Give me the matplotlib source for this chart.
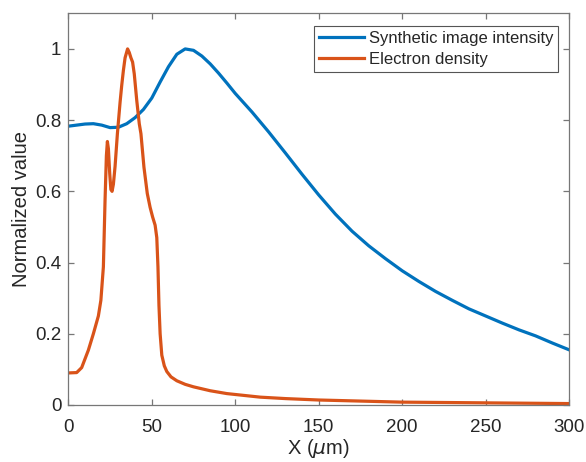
import matplotlib.pyplot as plt

# Synthetic image intensity (blue)
x_img = [0, 5, 10, 15, 20, 25, 30, 35, 40, 45, 50, 55, 60, 65, 70, 75, 80, 85, 90, 95,
         100, 110, 120, 130, 140, 150, 160, 170, 180, 190, 200, 210, 220, 230, 240,
         250, 260, 270, 280, 290, 300]
y_img = [0.783, 0.786, 0.789, 0.790, 0.786, 0.779, 0.780, 0.790, 0.807, 0.830, 0.862,
         0.907, 0.950, 0.985, 1.0, 0.996, 0.980, 0.958, 0.932, 0.904, 0.875, 0.823,
         0.767, 0.708, 0.648, 0.590, 0.536, 0.488, 0.447, 0.411, 0.377, 0.347, 0.319,
         0.294, 0.270, 0.250, 0.230, 0.211, 0.194, 0.174, 0.155]

# Electron density (orange)
x_ne = [0, 5, 8, 12, 15, 18, 19.5, 21, 22, 22.8, 23.4, 24, 24.8, 25.5, 26.2, 27, 28,
        29.4, 31, 32, 33, 34, 35.5, 36.5, 37.5, 38.5, 39.5, 41, 42.5, 43.5, 45.3, 47.3,
        49, 50.5, 52, 53, 53.7, 54.3, 55, 56, 57.5, 59, 61.5, 65, 70, 75, 85, 95, 115,
        130, 150, 175, 200, 250, 300]
y_ne = [0.09, 0.091, 0.105, 0.154, 0.2, 0.25, 0.294, 0.388, 0.575, 0.70, 0.74, 0.72,
        0.65, 0.605, 0.60, 0.62, 0.67, 0.762, 0.85, 0.898, 0.94, 0.975, 1.0, 0.99, 0.975,
        0.963, 0.93, 0.855, 0.79, 0.762, 0.668, 0.594, 0.555, 0.528, 0.505, 0.47, 0.388,
        0.28, 0.2, 0.14, 0.11, 0.094, 0.079, 0.068, 0.058, 0.051, 0.04, 0.032, 0.022,
        0.018, 0.014, 0.011, 0.008, 0.006, 0.004]

x_ticks = [0, 50, 100, 150, 200, 250, 300]
y_ticks = [0, 0.2, 0.4, 0.6, 0.8, 1.0]
y_labels = ["0", "0.2", "0.4", "0.6", "0.8", "1"]

plt.rcParams['font.family'] = ['Liberation Sans', 'DejaVu Sans']

fig = plt.figure(figsize=(5.86, 4.62), dpi=100)
ax = fig.add_axes([0.1166, 0.1234, 0.8545, 0.8478])

ax.plot(x_img, y_img, color="#0072BD", lw=2.3, label="Synthetic image intensity")
ax.plot(x_ne, y_ne, color="#D95319", lw=2.3, label="Electron density")

ax.set_xlim(0, 300)
ax.set_ylim(0, 1.1)
ax.set_xticks(x_ticks)
ax.set_yticks(y_ticks)
ax.set_yticklabels(y_labels)

spine_col = "#777777"
for s in ax.spines.values():
    s.set_color(spine_col)
    s.set_linewidth(0.9)
ax.tick_params(direction="in", length=4, width=0.9, color=spine_col,
               top=True, right=True, labelsize=13.5, labelcolor="#262626")
ax.tick_params(axis="x", pad=10)
ax.tick_params(axis="y", pad=5)

ax.set_xlabel(r"X ($\mu$m)", fontsize=14.5, color="#262626", labelpad=1)
ax.set_ylabel("Normalized value", fontsize=14.5, color="#262626", labelpad=3)

leg = ax.legend(loc="upper right", bbox_to_anchor=(0.978, 0.967), fontsize=12,
                handlelength=2.7, handletextpad=0.25, borderpad=0.3,
                labelspacing=0.35, borderaxespad=0, fancybox=False, framealpha=1)
leg.get_frame().set_edgecolor("#555555")
leg.get_frame().set_linewidth(0.8)
for t in leg.get_texts():
    t.set_color("#262626")

fig.savefig("out.png", dpi=100)
